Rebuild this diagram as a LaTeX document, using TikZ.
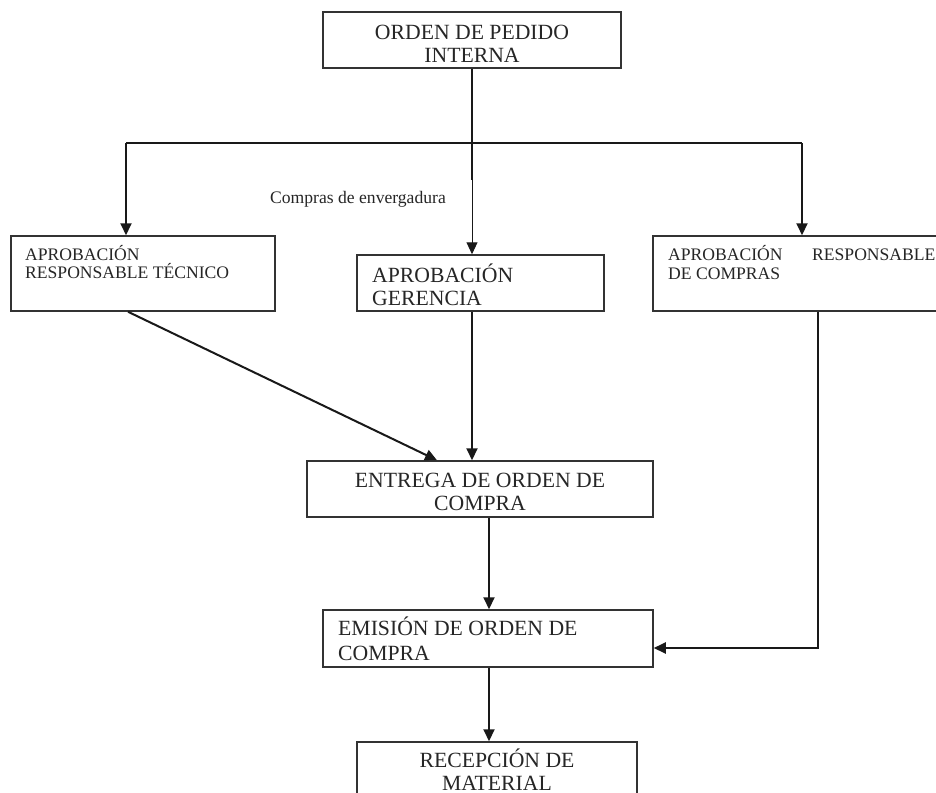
\documentclass[tikz,border=0pt]{standalone}
\usepackage{fontspec}
\setmainfont{Liberation Serif}
\usetikzlibrary{arrows.meta}
\begin{document}
\begin{tikzpicture}[x=1pt,y=-1pt,
  box/.style={draw=black!80,line width=1.5pt,rectangle,inner sep=0pt},
  big/.style={font=\fontsize{21.7}{23}\selectfont,inner sep=0pt,text=black!85},
  small/.style={font=\fontsize{17.6}{19}\selectfont,inner sep=0pt,text=black!85},
  conn/.style={line width=2pt,draw=black!90},
  arr/.style={conn,-{Triangle[length=12pt,width=11pt]}},
  thinarr/.style={line width=1pt,draw=black!90,-{Triangle[length=12pt,width=11pt]}}]
\useasboundingbox[fill=white] (0,0) rectangle (936,792);

% boxes
\node[box,minimum width=298pt,minimum height=56pt] (top) at (472,40) {};
\node[box,minimum width=264pt,minimum height=75pt] (lbox) at (143,273.5) {};
\node[box,minimum width=247pt,minimum height=56pt] (ger) at (480.5,283) {};
\node[box,minimum width=287pt,minimum height=75pt] (rbox) at (796.5,273.5) {};
\node[box,minimum width=346pt,minimum height=56pt] (ent) at (480,489) {};
\node[box,minimum width=330pt,minimum height=57pt] (emi) at (488,638.5) {};
\node[box,minimum width=280pt,minimum height=60pt] (rec) at (497,772) {};

% texts
\node[big,anchor=base] (t1) at (472,40) {ORDEN DE PEDIDO};
\node[big,anchor=base] (t2) at (472,63) {INTERNA};
\node[small,anchor=base west] (l1) at (25,260) {APROBACIÓN};
\node[small,anchor=base west] (l2) at (25,278) {RESPONSABLE TÉCNICO};
\node[big,anchor=base west] (g1) at (372,282) {APROBACIÓN};
\node[big,anchor=base west] (g2) at (372,305) {GERENCIA};
\node[small,anchor=base west] (r1) at (668,260) {APROBACIÓN};
\node[small,anchor=base west] (r2) at (812,260) {RESPONSABLE};
\node[small,anchor=base west] (r3) at (668,279) {DE COMPRAS};
\node[small,anchor=base west] (cl) at (270,203) {Compras de envergadura};
\node[big,anchor=base] (e1) at (480,487) {ENTREGA DE ORDEN DE};
\node[big,anchor=base] (e2) at (480,510) {COMPRA};
\node[big,anchor=base west] (m1) at (338,635) {EMISIÓN DE ORDEN DE};
\node[big,anchor=base west] (m2) at (338,660) {COMPRA};
\node[big,anchor=base] (c1) at (497,767) {RECEPCIÓN DE};
\node[big,anchor=base] (c2) at (497,790) {MATERIAL};

% connectors
\coordinate (hl) at (126,143);
\coordinate (hm) at (472,143);
\coordinate (hr) at (802,143);
\coordinate (brk) at (472,180);
\draw[conn] (top.south) -- (brk);
\draw[conn] (hl) -- (hr);
\draw[thinarr] (brk) -- (brk |- ger.north);
\draw[arr] (hl) -- (hl |- lbox.north);
\draw[arr] (hr) -- (hr |- rbox.north);
\draw[arr] ([xshift=-15pt]lbox.south) -- ([xshift=-43pt]ent.north);
\draw[arr] (brk |- ger.south) -- (brk |- ent.north);
\draw[arr] ([xshift=9pt]ent.south) -- ([xshift=9pt]ent.south |- emi.north);
\draw[arr] ([xshift=1pt]emi.south) -- ([xshift=1pt]emi.south |- rec.north);
\draw[arr] ([xshift=21.5pt]rbox.south) |- ([yshift=-9.5pt]emi.east);
\end{tikzpicture}
\end{document}
